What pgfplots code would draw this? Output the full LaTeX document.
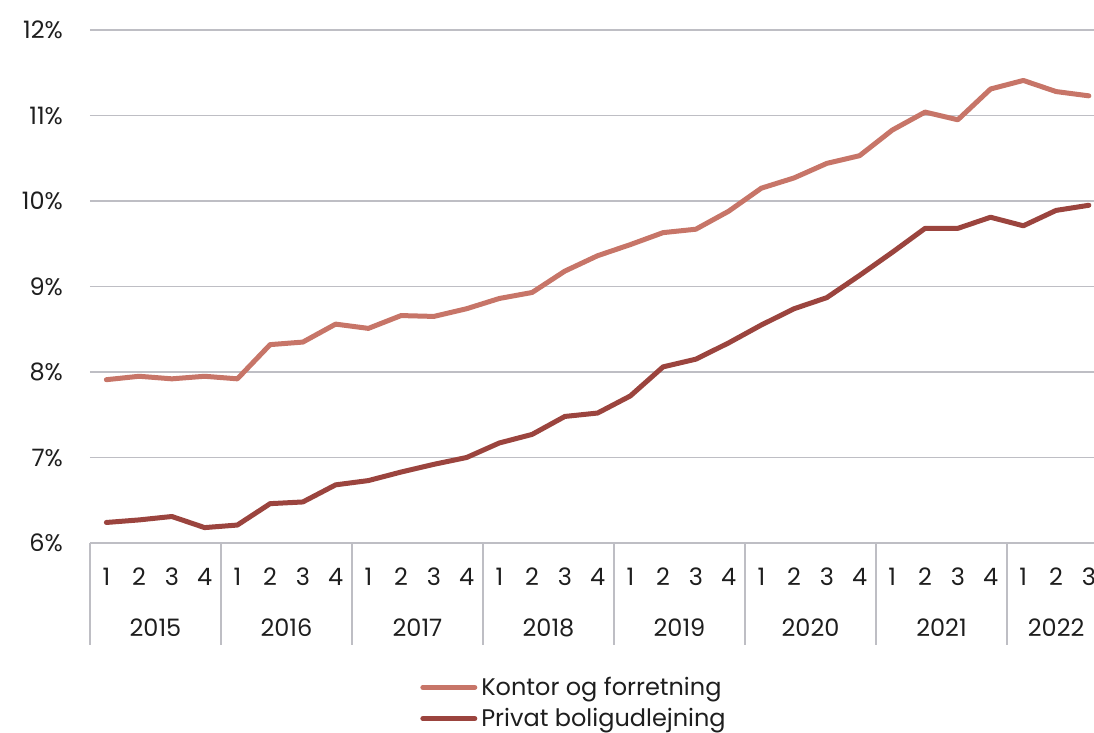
\documentclass[border=0pt]{standalone}
\usepackage{pgfplots}
\pgfplotsset{compat=1.18}
\usepackage{fontspec}
\setmainfont{Poppins}
\definecolor{kontor}{RGB}{199,117,104}
\definecolor{privat}{RGB}{155,68,62}
\definecolor{gridc}{RGB}{190,190,196}
\definecolor{txt}{RGB}{30,30,30}
\begin{document}
\begin{tikzpicture}[font=\fontsize{12}{14}\selectfont, text=txt]
\begin{axis}[
  at={(45pt,95pt)}, anchor=south west,
  scale only axis, width=507.6pt, height=256.5pt,
  xmin=-0.5, xmax=30.5, ymin=6, ymax=12,
  axis line style={draw=none},
  ytick={6,7,8,9,10,11,12},
  yticklabels={6\%,7\%,8\%,9\%,10\%,11\%,12\%},
  ymajorgrids, grid style={gridc, line width=0.8pt},
  major tick length=0pt,
  yticklabel style={anchor=east, xshift=-10pt, text=txt},
  xtick={0,...,30},
  xticklabels={1,2,3,4,1,2,3,4,1,2,3,4,1,2,3,4,1,2,3,4,1,2,3,4,1,2,3,4,1,2,3},
  xticklabel style={anchor=center, yshift=-17pt, text=txt},
  legend style={draw=none, fill=none, at={(0.325,-0.252)}, anchor=north west,
    font=\fontsize{12}{14}\selectfont, row sep=1pt, inner sep=0pt,
    legend cell align=left, text=txt},
  legend image code/.code={\draw[#1] (0pt,0pt) -- (26pt,0pt);},
  every axis plot/.append style={line width=2.5pt, line cap=round, line join=round},
]
\addplot[kontor] coordinates {
(0,7.91)(1,7.95)(2,7.92)(3,7.95)(4,7.92)(5,8.32)(6,8.35)(7,8.56)(8,8.51)(9,8.66)(10,8.65)(11,8.74)(12,8.86)(13,8.93)(14,9.18)(15,9.36)(16,9.49)(17,9.63)(18,9.67)(19,9.88)(20,10.15)(21,10.27)(22,10.44)(23,10.53)(24,10.83)(25,11.04)(26,10.95)(27,11.31)(28,11.41)(29,11.28)(30,11.23)};
\addlegendentry{Kontor og forretning}
\addplot[privat] coordinates {
(0,6.24)(1,6.27)(2,6.31)(3,6.18)(4,6.21)(5,6.46)(6,6.48)(7,6.68)(8,6.73)(9,6.83)(10,6.92)(11,7.00)(12,7.17)(13,7.27)(14,7.48)(15,7.52)(16,7.72)(17,8.06)(18,8.15)(19,8.34)(20,8.55)(21,8.74)(22,8.87)(23,9.13)(24,9.40)(25,9.68)(26,9.68)(27,9.81)(28,9.71)(29,9.89)(30,9.95)};
\addlegendentry{Privat boligudlejning}
\end{axis}
\foreach \k in {0,...,7} {
  \draw[gridc, line width=0.8pt] ({45pt+\k*65.5pt},95pt) -- ({45pt+\k*65.5pt},44pt);
}
\foreach \k/\yr in {0/2015,1/2016,2/2017,3/2018,4/2019,5/2020,6/2021} {
  \node[anchor=center, text=txt] at ({45pt+32.75pt+\k*65.5pt},52.5pt) {\yr};
}
\node[anchor=center, text=txt] at ({45pt+7*65.5pt+24.56pt},52.5pt) {2022};
\pgfresetboundingbox
\path[use as bounding box] (0,0) rectangle (547pt,366.5pt);
\end{tikzpicture}
\end{document}
